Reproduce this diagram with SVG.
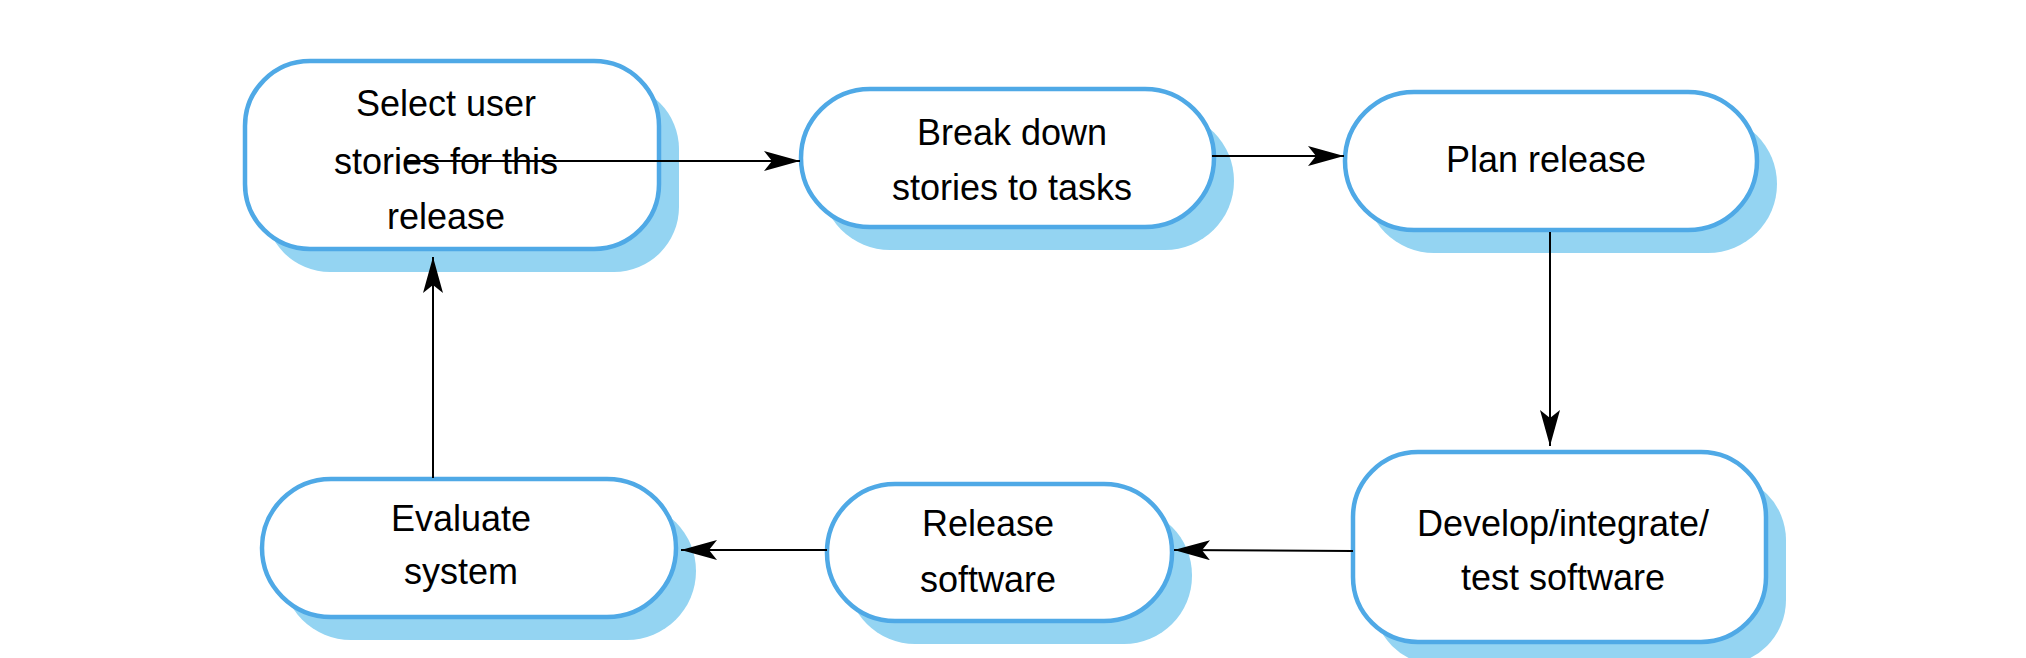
<svg xmlns="http://www.w3.org/2000/svg" width="2026" height="658" viewBox="0 0 2026 658">
<defs>
<style>
.sh{fill:#94d4f2}
.bx{fill:#fff;stroke:#4fa9e6;stroke-width:4.5}
.t{font-family:"Liberation Sans",Arial,sans-serif;font-size:36px;fill:#000;text-anchor:middle}
.c{stroke:#000;stroke-width:2;fill:none;marker-end:url(#ah)}
</style>
<marker id="ah" viewBox="0 0 36 20" refX="36" refY="10" markerWidth="36" markerHeight="20" markerUnits="userSpaceOnUse" orient="auto">
<path d="M0,0 L36,10 L0,20 L8,10 Z" fill="#000"/>
</marker>
</defs>
<rect width="2026" height="658" fill="#fff"/>
<g id="n1"><rect class="sh" x="265" y="84" width="414" height="188" rx="65"/><rect class="bx" x="245" y="61" width="414" height="188" rx="65"/>
<text class="t" x="446" y="116">Select user</text><text class="t" x="446" y="174">stories for this</text><text class="t" x="446" y="229">release</text></g>
<g id="n2"><rect class="sh" x="821" y="112" width="413" height="138" rx="69"/><rect class="bx" x="801" y="89" width="413" height="138" rx="69"/>
<text class="t" x="1012" y="145">Break down</text><text class="t" x="1012" y="200">stories to tasks</text></g>
<g id="n3"><rect class="sh" x="1365" y="115" width="412" height="138" rx="69"/><rect class="bx" x="1345" y="92" width="412" height="138" rx="69"/>
<text class="t" x="1546" y="172">Plan release</text></g>
<g id="n4"><rect class="sh" x="1373" y="475" width="413" height="190" rx="65"/><rect class="bx" x="1353" y="452" width="413" height="190" rx="65"/>
<text class="t" x="1563" y="536">Develop/integrate/</text><text class="t" x="1563" y="590">test software</text></g>
<g id="n5"><rect class="sh" x="847" y="507" width="345" height="137" rx="68"/><rect class="bx" x="827" y="484" width="345" height="137" rx="68"/>
<text class="t" x="988" y="536">Release</text><text class="t" x="988" y="592">software</text></g>
<g id="n6"><rect class="sh" x="282" y="502" width="414" height="138" rx="69"/><rect class="bx" x="262" y="479" width="414" height="138" rx="69"/>
<text class="t" x="461" y="531">Evaluate</text><text class="t" x="461" y="584">system</text></g>
<g id="connectors">
<line class="c" x1="405" y1="161" x2="800" y2="161" transform="translate(0,0)"/>
<line class="c" x1="1212" y1="156" x2="1344" y2="156"/>
<line class="c" x1="1550" y1="232" x2="1550" y2="446"/>
<line class="c" x1="1353" y1="551" x2="1174" y2="550"/>
<line class="c" x1="827" y1="550" x2="681" y2="550"/>
<line class="c" x1="433" y1="478" x2="433" y2="257"/>
</g>
</svg>
